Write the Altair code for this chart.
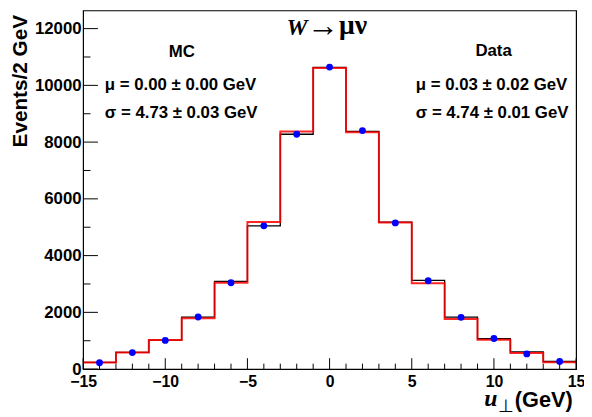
import altair as alt
import pandas as pd

# ---- data ----
centers = [-14, -12, -10, -8, -6, -4, -2, 0, 2, 4, 6, 8, 10, 12, 14]
black_hist = [240, 590, 1020, 1835, 3089, 5049, 8277, 10634, 8381, 5178, 3124, 1835, 1069, 606, 268]
red_hist = [233, 581, 1025, 1790, 3043, 5188, 8371, 10610, 8346, 5167, 3029, 1765, 1034, 571, 244]
data_pts = [225, 581, 1010, 1835, 3043, 5049, 8277, 10645, 8405, 5153, 3113, 1825, 1079, 536, 268]

x_major = [-15, -10, -5, 0, 5, 10, 15]
x_minor = [v for v in range(-15, 16) if v % 5 != 0]
y_major = [0, 2000, 4000, 6000, 8000, 10000, 12000]
y_minor = [1000, 3000, 5000, 7000, 9000, 11000]

mc_text = ["MC", "\u03bc = 0.00 \u00b1 0.00 GeV", "\u03c3 = 4.73 \u00b1 0.03 GeV"]
data_text = ["Data", "\u03bc = 0.03 \u00b1 0.02 GeV", "\u03c3 = 4.74 \u00b1 0.01 GeV"]

W, H = 499, 363
xs = alt.Scale(domain=[-15, 15], nice=False, zero=False)
ys = alt.Scale(domain=[0, 12640], nice=False, zero=True)
SANS = "Liberation Sans"
SERIF = "Liberation Serif"


def step_df(vals):
    edges = [c - 1 for c in centers] + [centers[-1] + 1]
    return pd.DataFrame({"x": edges, "y": list(vals) + [vals[-1]]})


xaxis = alt.Axis(values=x_major, ticks=False, domain=False, grid=False, title="",
                 labelFont=SANS, labelFontSize=16, labelFontWeight="bold", labelColor="black",
                 labelPadding=5, labelFlush=False, format="d")
yaxis = alt.Axis(values=y_major, ticks=False, domain=False, grid=False,
                 title="Events/2 GeV", titleFont=SANS, titleFontSize=21, titleFontWeight="bold",
                 titleColor="black", titleAngle=270, titleAlign="right", titleBaseline="middle",
                 titleAnchor="end", titleX=-63.5, titleY=4,
                 labelFont=SANS, labelFontSize=17, labelFontWeight="bold", labelColor="black",
                 labelPadding=2, format="d")

black = alt.Chart(step_df(black_hist)).mark_line(
    interpolate="step-after", color="black", strokeWidth=1.3
).encode(
    x=alt.X("x:Q", scale=xs, axis=xaxis),
    y=alt.Y("y:Q", scale=ys, axis=yaxis),
)

red = alt.Chart(step_df(red_hist)).mark_line(
    interpolate="step-after", color="#ff0000", strokeWidth=2, opacity=0.85
).encode(
    x=alt.X("x:Q", scale=xs),
    y=alt.Y("y:Q", scale=ys),
)

dots = alt.Chart(pd.DataFrame({"x": centers, "y": data_pts})).mark_circle(
    color="#0000ff", size=48, opacity=1
).encode(
    x=alt.X("x:Q", scale=xs),
    y=alt.Y("y:Q", scale=ys),
)


def xticks(vals, length):
    return alt.Chart(pd.DataFrame({"x": vals})).mark_rule(color="black", strokeWidth=1).encode(
        x=alt.X("x:Q", scale=xs),
        y=alt.value(H), y2=alt.value(H - length),
    )


def yticks(vals, length):
    return alt.Chart(pd.DataFrame({"y": vals})).mark_rule(color="black", strokeWidth=1).encode(
        y=alt.Y("y:Q", scale=ys),
        x=alt.value(0), x2=alt.value(length),
    )


def label(text, x, y, size, font=SANS, weight="bold", style="normal", align="left",
          baseline="alphabetic"):
    return alt.Chart(pd.DataFrame({"t": [text]})).mark_text(
        font=font, fontSize=size, fontWeight=weight, fontStyle=style, align=align,
        baseline=baseline, color="black"
    ).encode(x=alt.value(x), y=alt.value(y), text="t:N")


texts = [
    label(mc_text[0], 100, 47, 17, align="center"),
    label(mc_text[1], 22, 80.3, 17),
    label(mc_text[2], 22, 108.7, 17),
    label(data_text[0], 415.5, 46.3, 17, align="center"),
    label(data_text[1], 336.7, 80.3, 17),
    label(data_text[2], 336.7, 108.7, 17),
    label("W", 206, 25, 24, font=SERIF, weight="bold", style="italic"),
    label("\u2192", 227, 26, 32, font=SERIF, weight="normal"),
    label("\u03bc\u03bd", 259, 24, 28, font=SERIF, weight="bold"),
    label("u", 406, 400, 24, font=SERIF, weight="bold", style="italic"),
    label("\u22a5", 420, 406, 18, font=SERIF, weight="normal"),
    label("(GeV)", 437, 401, 22),
]

chart = alt.layer(
    black, red, dots,
    xticks(x_major, 11), xticks(x_minor, 5.5), yticks(y_major, 15), yticks(y_minor, 7.5),
    *texts
).properties(
    width=W, height=H, autosize="none",
    padding={"left": 76, "top": 0, "right": 8, "bottom": 46},
).configure_view(stroke="black", strokeWidth=1.2).configure_axis(grid=False)

chart.save("out.html", embed_options={"renderer": "svg", "actions": False})
